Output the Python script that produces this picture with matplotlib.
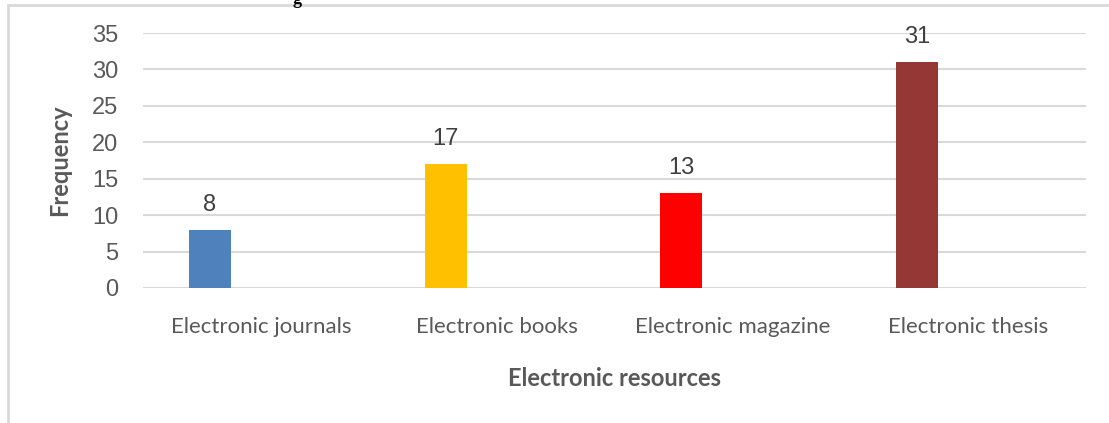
import matplotlib.pyplot as plt
import numpy as np
from matplotlib.patches import Rectangle

categories = ["Electronic journals", "Electronic books", "Electronic magazine", "Electronic thesis"]
frequency = [8, 17, 13, 31]
colors = ["#4F81BD", "#FFC000", "#FF0000", "#953735"]
yticks = [0, 5, 10, 15, 20, 25, 30, 35]

W, H = 1109, 423
fig = plt.figure(figsize=(W / 100, H / 100), dpi=100)

# chart area frame (light gray), cut by the image edges
fig.patches.append(Rectangle((8 / W, -0.1), 1.2, 1 - 5 / H + 0.1, transform=fig.transFigure,
                             fill=False, edgecolor="#D9D9D9", linewidth=2))
# cut-off caption fragment above the chart
fig.text(297 / W, 1.0, "g", ha="center", va="center", fontsize=13, fontweight="bold",
         family="Liberation Serif", color="black")

ax = fig.add_axes([143 / W, 1 - 288 / H, (1086 - 143) / W, (288 - 33) / H])
x = np.arange(len(categories))
bars = ax.bar(x - 0.216, frequency, width=0.178, color=colors, zorder=3)
for b, v in zip(bars, frequency):
    ax.text(b.get_x() + b.get_width() / 2, v + 1.9, str(v), ha="center", va="bottom",
            fontsize=17, family="Liberation Sans", color="#404040")

ax.set_xlim(-0.5, 3.5)
ax.set_ylim(0, 35)
ax.set_yticks(yticks)
ax.set_yticklabels([str(t) for t in yticks], fontsize=17, family="Liberation Sans", color="#595959")
ax.set_xticks(x)
ax.set_xticklabels(categories, fontsize=16, family="Lato", color="#595959")
ax.tick_params(axis="both", length=0)
ax.tick_params(axis="x", pad=21)
ax.tick_params(axis="y", pad=18)
ax.grid(axis="y", color="#D9D9D9", linewidth=1.5, zorder=0)
for s in ax.spines.values():
    s.set_visible(False)

fig.text(615 / W, 1 - 378 / H, "Electronic resources", ha="center", va="center",
         fontsize=17, fontweight="bold", family="Lato", color="#595959")
fig.text(60 / W, 1 - 160 / H, "Frequency", ha="center", va="center", rotation=90,
         fontsize=17, fontweight="bold", family="Lato", color="#595959")

fig.savefig("out.png", dpi=100)
